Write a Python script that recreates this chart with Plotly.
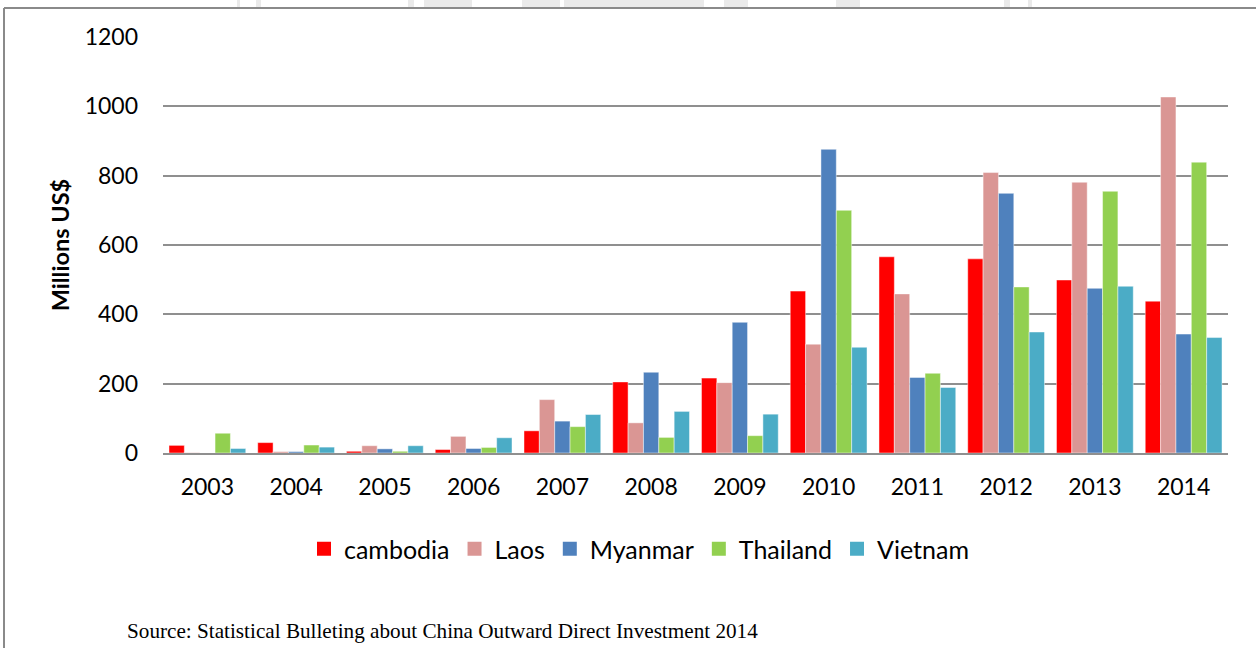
import plotly.graph_objects as go

# China's outward direct investment flows into mainland Southeast Asia (Millions US$)
years = ["2003", "2004", "2005", "2006", "2007", "2008",
         "2009", "2010", "2011", "2012", "2013", "2014"]
cambodia = [22, 30, 5, 10, 64, 205, 216, 467, 566, 560, 499, 438]
laos = [1, 4, 21, 48, 154, 87, 203, 314, 459, 809, 781, 1027]
myanmar = [0, 4, 12, 13, 92, 233, 377, 876, 218, 749, 475, 343]
thailand = [57, 23, 5, 16, 76, 45, 50, 700, 230, 479, 755, 839]
vietnam = [13, 17, 21, 44, 111, 120, 112, 305, 189, 349, 481, 333]

series = [
    ("cambodia", cambodia, "#FF0000"),
    ("Laos", laos, "#DA9694"),
    ("Myanmar", myanmar, "#4F81BD"),
    ("Thailand", thailand, "#92D050"),
    ("Vietnam", vietnam, "#4BACC6"),
]

W, H = 1256, 648
ML, MR, MT, MB = 163, 28, 37, 195
PW, PH = W - ML - MR, H - MT - MB


def px_x(x):
    return (x - ML) / PW


def px_y(y):
    return (H - MB - y) / PH


fig = go.Figure()
for name, vals, color in series:
    fig.add_trace(go.Bar(
        x=years, y=vals, name=name, legendgroup=name, showlegend=False,
        marker=dict(color=color, line=dict(color="rgba(255,255,255,0.45)", width=1)),
    ))
# legend keys: larger square swatches for each series
for name, vals, color in series:
    fig.add_trace(go.Scatter(
        x=[None], y=[None], mode="markers", name=name, legendgroup=name,
        marker=dict(symbol="square", size=14, color=color),
    ))

shapes = []
# faint page watermark peeking above the frame
for x0, x1 in [(237, 240), (256, 261), (408, 414), (424, 472), (522, 560),
               (564, 704), (724, 748), (836, 860), (1004, 1010), (1028, 1032)]:
    shapes.append(dict(type="rect", xref="paper", yref="paper",
                       x0=px_x(x0), x1=px_x(x1), y0=px_y(8), y1=px_y(0),
                       fillcolor="#EAEAEA", line=dict(width=0), layer="below"))
# outer frame (left and top edges)
shapes.append(dict(type="line", xref="paper", yref="paper",
                   x0=px_x(4), x1=px_x(W + 2), y0=px_y(8), y1=px_y(8),
                   line=dict(color="#8A8A8A", width=2)))
shapes.append(dict(type="line", xref="paper", yref="paper",
                   x0=px_x(4), x1=px_x(4), y0=px_y(8), y1=px_y(H + 2),
                   line=dict(color="#8A8A8A", width=2)))

fig.update_layout(
    width=W, height=H,
    margin=dict(l=ML, r=MR, t=MT, b=MB, pad=0),
    paper_bgcolor="white", plot_bgcolor="white",
    font=dict(family="Lato, 'Open Sans', sans-serif", size=23, color="black"),
    barmode="group", bargap=0.135, bargroupgap=0,
    showlegend=True,
    legend=dict(orientation="h", x=px_x(639), xanchor="center", y=px_y(549), yanchor="middle",
                font=dict(size=25), traceorder="normal",
                bgcolor="rgba(0,0,0,0)"),
    shapes=shapes,
    annotations=[dict(
        text="Source: Statistical Bulleting about China Outward Direct Investment 2014",
        xref="paper", yref="paper", x=px_x(125), y=px_y(631),
        xanchor="left", yanchor="middle", showarrow=False,
        font=dict(family="'Liberation Serif', 'Times New Roman', serif", size=21.2, color="black"),
    )],
)

fig.update_xaxes(
    showgrid=False, showline=True, linecolor="#8F8F8F", linewidth=2,
    ticks="", ticklabelstandoff=12, tickfont=dict(size=23),
)
fig.update_yaxes(
    range=[0, 1200], dtick=200, tick0=0,
    showgrid=True, gridcolor="#8F8F8F", gridwidth=2,
    zeroline=False, showline=False, ticks="",
    ticklabelstandoff=24, tickfont=dict(size=23),
    title=dict(text="<b>Millions US$</b>", font=dict(size=23.5), standoff=8),
)

fig.write_html("out.html")
